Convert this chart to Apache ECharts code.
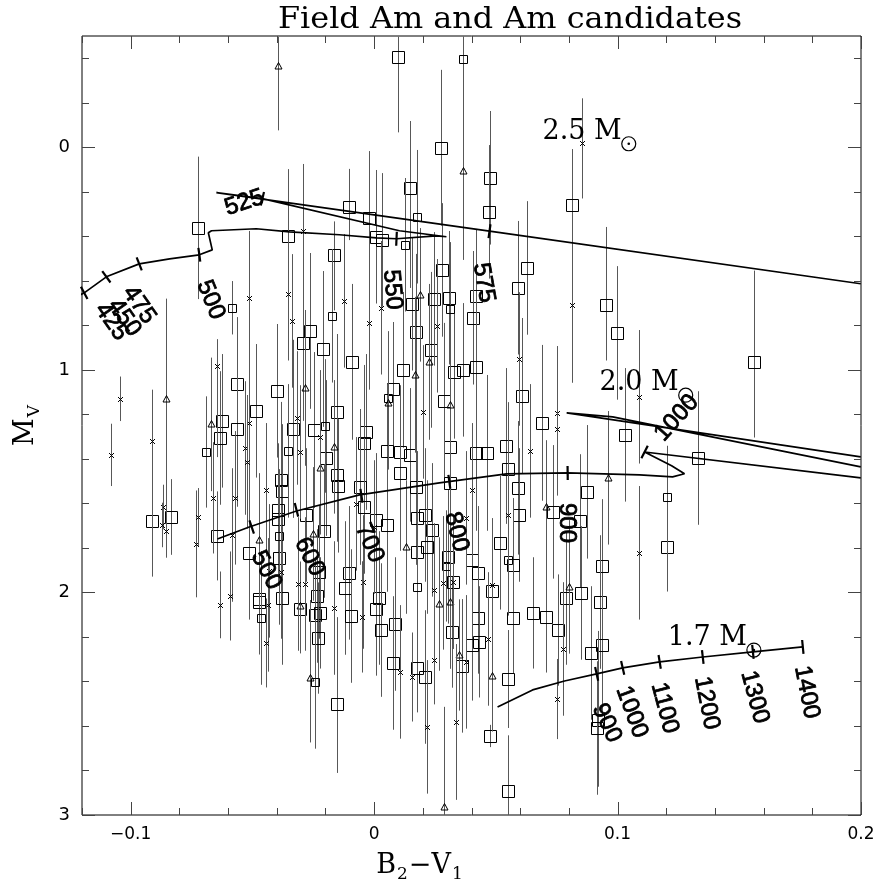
<!DOCTYPE html>
<html><head><meta charset="utf-8">
<script src="https://cdn.jsdelivr.net/npm/echarts@6/dist/echarts.min.js"></script>
<style>html,body{margin:0;padding:0;background:#fff}#c{width:878px;height:888px}</style>
</head><body><div id="c"></div>
<script>
// ---------------- data (B2-V1, M_V, error up, [error down]) ----------------
const bigSquares = [
[-0.0911,1.679,0.25],[-0.0833,1.661,0.17],[-0.0644,1.746,0.2],[-0.0623,1.229,0.3],[-0.0632,1.306,0.3],
[-0.0562,1.063,0.3],[-0.0562,1.265,0.35],[-0.0484,1.184,0.3],[-0.0401,1.094,0.3],[-0.0512,1.822,0.3],
[-0.0381,1.494,0.35],[-0.0377,1.544,0.3],[-0.0393,1.630,0.3],[-0.0393,1.670,0.3],[-0.0389,1.845,0.3],
[-0.0291,0.879,0.35],[-0.0262,0.825,0.35],[-0.0212,0.906,0.35],[-0.0332,1.265,0.4],[-0.0245,1.270,0.35],
[-0.0196,1.396,0.35],[-0.0151,1.189,0.35],[-0.0151,1.472,0.3],[-0.0147,1.521,0.3],[-0.0278,1.652,0.3],
[-0.0204,1.724,0.3],[-0.0089,0.964,0.35],[0.0120,1.000,0.35],[0.0079,1.085,0.3],[0.0170,0.829,0.35],
[0.0232,0.910,0.35],[-0.0032,1.279,0.35],[-0.0040,1.328,0.35],[0.0051,1.364,0.3],[0.0108,1.369,0.3],
[0.0149,1.382,0.3],[0.0108,1.463,0.35],[0.0170,1.526,0.35],[-0.0060,1.526,0.35],[-0.0040,1.616,0.3],
[0.0009,1.674,0.3],[0.0051,1.697,0.3],[0.0178,1.665,0.3],[0.0236,1.719,0.3],[0.0211,1.652,0.3],
[0.0178,1.818,0.3],[0.0219,1.796,0.3],[-0.0102,1.912,0.3],[-0.0118,1.980,0.3],[-0.0225,1.908,0.3],
[-0.0233,2.016,0.3],[-0.0377,2.025,0.3],[-0.0471,2.029,0.25],[0.0022,2.025,0.3],[-0.0722,0.362,0.32],
[-0.0352,0.398,0.3],[-0.0163,0.483,0.15,0.25],[-0.0102,0.267,0.17,0.15],[-0.0023,0.317,0.3],[0.0009,0.402,0.3],
[0.0034,0.416,0.3],[0.0149,0.182,0.3,0.45],[0.0100,-0.407,0.09,0.34],[0.0273,0.002,0.35],[0.0478,0.137,0.3],
[0.0470,0.290,0.3],[0.0811,0.258,0.25,0.6],[0.0630,0.542,0.3],[0.0589,0.631,0.3],[0.0277,0.551,0.3],
[0.0248,0.681,0.3],[0.0306,0.676,0.3],[0.0157,0.703,0.3],[0.0420,0.667,0.3],[0.0408,0.766,0.3],
[0.0420,0.987,0.3],[0.0367,1.000,0.3],[0.0330,1.009,0.3],[0.0951,0.708,0.35,0.25],[0.0996,0.834,0.3],
[0.1559,0.964,0.41,0.34],[0.0609,1.117,0.35],[0.0688,1.238,0.35],[0.0540,1.342,0.35],[0.0462,1.373,0.35],
[0.0420,1.373,0.35],[0.0310,1.346,0.35],[0.0285,1.139,0.35],[0.1029,1.292,0.3],[0.1329,1.396,0.3],
[0.1202,1.796,0.2],[0.0310,1.508,0.35],[0.0548,1.445,0.3],[0.0589,1.530,0.3],[0.0873,1.548,0.3],
[0.0733,1.638,0.3],[0.0844,1.679,0.3],[0.0597,1.652,0.3],[0.0519,1.777,0.3],[0.0400,1.854,0.3],
[0.0425,1.912,0.3],[0.0569,1.876,0.3],[0.0938,1.881,0.3],[0.0486,1.993,0.3],[0.0790,2.025,0.3],
[0.0848,2.002,0.3],[0.0926,2.043,0.3],[0.0302,1.840,0.3],[0.0425,2.115,0.25],[0.0569,2.115,0.25],
[0.0318,2.178,0.25],[0.0651,2.092,0.25],[0.0708,2.110,0.25],[0.0754,2.169,0.25],[0.0400,2.236,0.25],
[0.0429,2.222,0.25],[0.0938,2.236,0.3],[0.0889,2.272,0.3],[0.0178,2.339,0.2],[0.0207,2.380,0.3],
[0.0359,2.330,0.3],[0.0548,2.389,0.22],[0.0478,2.645,0.05],[0.0548,2.892,0.25],[0.0918,2.573,0.4,0.3],
[0.0914,2.609,0.3],[-0.0471,2.043,0.2],[-0.0303,2.074,0.2],[-0.0241,2.101,0.25],[-0.0221,2.092,0.25],
[-0.0229,2.205,0.25],[-0.0093,2.106,0.3],[0.0009,2.074,0.3],[0.0030,2.169,0.3],[0.0087,2.142,0.3],
[0.0079,2.317,0.3],[-0.0151,2.501,0.39,0.31],[0.0326,1.953,0.3]
];
const smallSquares = [
[-0.0689,1.369,0.25],[-0.0582,0.721,0.12],[-0.0352,1.364,0.3],[-0.0200,1.252,0.3],[-0.0389,1.746,0.3],
[-0.0171,0.757,0.3],[0.0059,1.126,0.3],[0.0178,0.312,0.3],[0.0125,0.438,0.3],[0.0367,-0.398,0.1,0.87],
[0.0310,0.726,0.3],[0.1202,1.571,0.23,0.29],[0.0548,1.854,0.25],[0.0297,1.881,0.25],[0.0178,1.975,0.25],
[-0.0463,2.115,0.3],[-0.0241,2.402,0.3]
];
const triangles = [
[-0.0854,1.130,0.45,0.5],[-0.0672,1.245,0.3],[-0.0471,1.764,0.3],[-0.0282,1.081,0.35],[-0.0221,1.440,0.3],
[-0.0163,1.346,0.3],[-0.0253,1.737,0.3],[0.0059,1.148,0.3],[0.0166,1.022,0.35],[0.0227,0.964,0.35],
[0.0129,1.796,0.3],[-0.0393,-0.366,0.13,0.29],[0.0367,0.106,0.4],[0.0190,0.663,0.3],[0.0310,1.157,0.4],
[0.0959,1.485,0.3],[0.0708,1.616,0.3],[0.0799,1.975,0.3],[0.0268,2.052,0.3],[0.0310,2.043,0.3],
[0.0347,2.281,0.25],[0.0486,2.375,0.25],[0.0289,2.964,0.45,0.1],[-0.0303,2.061,0.2],[-0.0262,2.384,0.35,0.29]
];
const crosses = [
[-0.1080,1.382,0.14],[-0.1042,1.130,0.1],[-0.0911,1.319,0.23,0.55],[-0.0866,1.616,0.1],[-0.0870,1.697,0.1],
[-0.0854,1.724,0.12],[-0.0730,1.782,0.24],[-0.0722,1.661,0.13],[-0.0660,1.575,0.25],[-0.0644,0.982,0.12,0.41],
[-0.0570,1.575,0.3],[-0.0512,1.238,0.3],[-0.0529,1.351,0.3],[-0.0521,1.413,0.3],[-0.0443,1.539,0.3],
[-0.0582,1.742,0.3],[-0.0336,0.780,0.3],[-0.0315,1.216,0.3],[-0.0303,1.369,0.3],[-0.0221,1.301,0.3],
[-0.0023,0.789,0.3],[0.0199,1.189,0.3],[-0.0291,0.375,0.3],[-0.0512,0.676,0.3],[-0.0352,0.658,0.3],
[-0.0122,0.690,0.3],[0.0030,0.721,0.3],[0.0260,0.802,0.3],[0.0597,0.951,0.3],[0.0811,0.708,0.35],
[0.0852,-0.020,0.2,0.25],[0.0750,1.193,0.3],[0.0750,1.265,0.3],[0.0639,1.364,0.3],[0.1087,1.121,0.3],
[0.1087,1.822,0.3],[0.0400,1.539,0.3],[0.0548,1.652,0.3],[0.0379,1.665,0.3],[0.0326,1.953,0.3],
[0.0281,1.957,0.3],[0.0486,1.966,0.3],[0.0248,1.989,0.3],[-0.0073,1.602,0.3],[0.0001,1.706,0.3],
[-0.0044,1.953,0.3],[-0.0311,1.962,0.3],[-0.0282,1.962,0.3],[-0.0430,1.903,0.3],[-0.0381,1.908,0.3],
[-0.0591,2.016,0.2],[-0.0632,2.056,0.15],[-0.0434,2.056,0.3],[-0.0443,2.227,0.2],[-0.0163,2.070,0.3],
[-0.0048,2.110,0.25],[0.0108,2.357,0.3],[0.0157,2.380,0.2],[0.0248,2.303,0.2],[0.0219,2.604,0.3],
[0.0338,2.582,0.35],[0.0750,2.479,0.18],[0.0379,2.312,0.3],[0.0466,2.209,0.3],[0.0774,2.254,0.3]
];

// evolutionary tracks
const track25 = [[-0.121,0.665],[-0.1191,0.654],[-0.110,0.582],[-0.0965,0.524],[-0.084,0.501],[-0.0718,0.483],
[-0.0665,0.461],[-0.0681,0.384],[-0.0668,0.375],[-0.0484,0.366],[-0.0348,0.380],[-0.0143,0.393],[0.0009,0.407],
[0.0092,0.411],[0.0256,0.398],[0.0297,0.402],[0.0104,0.375],[-0.0459,0.231],[-0.0648,0.204],[0.0474,0.377],[0.1999,0.613]];
const track20 = [[-0.0644,1.760],[-0.0513,1.706],[-0.0319,1.634],[-0.0060,1.562],[0.0268,1.508],[0.0544,1.467],
[0.0795,1.463],[0.1091,1.472],[0.1226,1.481],[0.1275,1.467],[0.1222,1.431],[0.1111,1.369],[0.1999,1.485]];
const track20b = [[0.1999,1.391],[0.0791,1.193],[0.0980,1.211],[0.1999,1.436]];
const track17 = [[0.0507,2.515],[0.0651,2.438],[0.0782,2.398],[0.0914,2.366],[0.1021,2.339],[0.1173,2.312],
[0.1350,2.290],[0.1556,2.267],[0.1761,2.245]];

const ticks25 = [[-0.1191,0.654],[-0.110,0.582],[-0.0965,0.524],[-0.0718,0.483],[-0.0459,0.231],[0.0092,0.411],[0.0474,0.377]];
const ticks20 = [[-0.0503,1.706],[-0.0319,1.629],[-0.0052,1.566],[0.0309,1.503],[0.0795,1.463],[0.1111,1.369]];
const ticks17 = [[0.0914,2.366],[0.1021,2.339],[0.1173,2.312],[0.1350,2.290],[0.1556,2.267],[0.1761,2.245]];

const ageLabels = [
 {t:'425',x:-0.1079,y:0.784,r:-55},{t:'450',x:-0.1026,y:0.766,r:-55},{t:'475',x:-0.0965,y:0.708,r:-55},
 {t:'500',x:-0.0672,y:0.685,r:-68},{t:'525',x:-0.0533,y:0.249,r:18},{t:'550',x:0.0075,y:0.640,r:-85},
 {t:'575',x:0.0450,y:0.609,r:-80},
 {t:'500',x:-0.0443,y:1.900,r:-62},{t:'600',x:-0.0266,y:1.840,r:-63},{t:'700',x:-0.0019,y:1.778,r:-67},
 {t:'800',x:0.0338,y:1.728,r:-76},{t:'900',x:0.0791,y:1.688,r:-90},{t:'1000',x:0.1243,y:1.216,r:48},
 {t:'900',x:0.0955,y:2.587,r:-65},{t:'1000',x:0.1058,y:2.537,r:-70},{t:'1100',x:0.1193,y:2.519,r:-75},
 {t:'1200',x:0.1366,y:2.497,r:-79},{t:'1300',x:0.1563,y:2.470,r:-75},{t:'1400',x:0.1777,y:2.448,r:-79}
];
const massLabels = [{t:'2.5 M',x:0.0692,y:-0.0697},{t:'2.0 M',x:0.0926,y:1.060},{t:'1.7 M',x:0.1206,y:2.205}];

const xMajorTicks=[-0.1,0,0.1,0.2];
const xMinorTicks=[-0.12,-0.08,-0.06,-0.04,-0.02,0.02,0.04,0.06,0.08,0.12,0.14,0.16,0.18];
const yMajorTicks=[0,1,2,3];
const yMinorTicks=[-0.4,-0.2,0.2,0.4,0.6,0.8,1.2,1.4,1.6,1.8,2.2,2.4,2.6,2.8];

// ---------------- rendering ----------------
const SERIF='"DejaVu Serif", serif';
const ctx=document.createElement('canvas').getContext('2d');
function tw(t,font){ctx.font=font;return ctx.measureText(t).width;}
const X_MIN=-0.12,X_MAX=0.2,Y_MIN=-0.5,Y_MAX=3;
const BAR='#585858';

function pointSeries(arr, kind){
  return {type:'custom',coordinateSystem:'cartesian2d',clip:true,z:2,
    data:arr.map(d=>[d[0],d[1]]),encode:{x:0,y:1},
    renderItem:function(params,api){
      const d=arr[params.dataIndex];
      const eu=d[2], ed=(d[3]===undefined?d[2]:d[3]);
      const p=api.coord([d[0],d[1]]);
      const a=api.coord([d[0],d[1]-eu]), b=api.coord([d[0],d[1]+ed]);
      const px=Math.round(p[0])+0.5, py=Math.round(p[1])+0.5;
      const ch=[{type:'line',shape:{x1:px,y1:a[1],x2:px,y2:b[1]},style:{stroke:BAR,lineWidth:1}}];
      const ms={fill:'none',stroke:'#000',lineWidth:1};
      if(kind==='big'||kind==='small'){
        const s=kind==='big'?12:8;
        ch.push({type:'rect',shape:{x:px-s/2,y:py-s/2,width:s,height:s},style:ms});
      } else if(kind==='tri'){
        ch.push({type:'polygon',shape:{points:[[px,py-4],[px-3.5,py+2.5],[px+3.5,py+2.5]]},style:ms});
      } else {
        ch.push({type:'line',shape:{x1:px-2.5,y1:py-2.5,x2:px+2.5,y2:py+2.5},style:ms});
        ch.push({type:'line',shape:{x1:px-2.5,y1:py+2.5,x2:px+2.5,y2:py-2.5},style:ms});
      }
      return {type:'group',children:ch};
    }};
}
function trackSeries(tr){
  return {type:'line',data:tr,showSymbol:false,symbol:'none',z:5,clip:true,silent:true,
    lineStyle:{color:'#000',width:1.7},animation:false};
}
function trackTickSeries(tr,ticks){
  return {type:'custom',coordinateSystem:'cartesian2d',clip:false,z:6,
    data:ticks,encode:{x:0,y:1},
    renderItem:function(params,api){
      const t=ticks[params.dataIndex]; const p=api.coord(t);
      const pts=tr.map(q=>api.coord(q));
      let best=1e9,dx=1,dy=0;
      for(let i=0;i<pts.length-1;i++){
        const a=pts[i],b=pts[i+1];const vx=b[0]-a[0],vy=b[1]-a[1];const L=vx*vx+vy*vy;if(L<1e-6)continue;
        let u=((p[0]-a[0])*vx+(p[1]-a[1])*vy)/L;u=Math.max(0,Math.min(1,u));
        const cx=a[0]+u*vx-p[0],cy=a[1]+u*vy-p[1];const dd=cx*cx+cy*cy;
        if(dd<best){best=dd;const l=Math.sqrt(L);dx=vx/l;dy=vy/l;}
      }
      const nx=-dy*7,ny=dx*7;
      return {type:'line',shape:{x1:p[0]-nx,y1:p[1]-ny,x2:p[0]+nx,y2:p[1]+ny},style:{stroke:'#000',lineWidth:2.2}};
    }};
}
const ageSeries={type:'custom',coordinateSystem:'cartesian2d',clip:false,z:7,
  data:ageLabels.map(l=>[l.x,l.y]),encode:{x:0,y:1},
  renderItem:function(params,api){
    const l=ageLabels[params.dataIndex];const p=api.coord([l.x,l.y]);
    return {type:'text',x:p[0],y:p[1],rotation:l.r*Math.PI/180,
      style:{text:l.t,font:'24px "Liberation Sans", Arial, sans-serif',fill:'#000',align:'center',verticalAlign:'middle',
        stroke:'#000',lineWidth:0.8}};
  }};
const MFONT='27px '+SERIF;
const massSeries={type:'custom',coordinateSystem:'cartesian2d',clip:false,z:7,
  data:massLabels.map(l=>[l.x,l.y]),encode:{x:0,y:1},
  renderItem:function(params,api){
    const l=massLabels[params.dataIndex];const p=api.coord([l.x,l.y]);
    const w=tw(l.t,MFONT);
    const cx=p[0]+w+7, cy=p[1]+12;
    return {type:'group',children:[
      {type:'text',x:p[0],y:p[1],style:{text:l.t,font:MFONT,fill:'#000',align:'left',verticalAlign:'middle'}},
      {type:'circle',shape:{cx:cx,cy:cy,r:7},style:{fill:'none',stroke:'#000',lineWidth:1.2}},
      {type:'circle',shape:{cx:cx,cy:cy,r:1.3},style:{fill:'#000'}}
    ]};
  }};
function axisTickSeries(vals,axis,len){
  return {type:'custom',coordinateSystem:'cartesian2d',clip:false,z:8,
    data:vals.map(v=>axis==='x'?[v,Y_MIN]:[X_MIN,v]),encode:{x:0,y:1},
    renderItem:function(params,api){
      const v=vals[params.dataIndex];const st={stroke:'#444',lineWidth:1};
      if(axis==='x'){
        const b=api.coord([v,Y_MAX]),t=api.coord([v,Y_MIN]);const x=Math.round(b[0])+0.5;
        return {type:'group',children:[
          {type:'line',shape:{x1:x,y1:b[1],x2:x,y2:b[1]-len},style:st},
          {type:'line',shape:{x1:x,y1:t[1],x2:x,y2:t[1]+len},style:st}]};
      } else {
        const l=api.coord([X_MIN,v]),r=api.coord([X_MAX,v]);const y=Math.round(l[1])+0.5;
        return {type:'group',children:[
          {type:'line',shape:{x1:l[0],y1:y,x2:l[0]+len,y2:y},style:st},
          {type:'line',shape:{x1:r[0],y1:y,x2:r[0]-len,y2:y},style:st}]};
      }
    }};
}

// title & axis names (graphic)
const TITLE='Field Am and Am candidates';
const TFONT='29px '+SERIF;
const titleScale=464/tw(TITLE,TFONT);
const BIG='27px '+SERIF, SUB='17px '+SERIF;
function subGroup(parts){
  let x=0;const ch=[];
  parts.forEach(p=>{const f=p[1]?SUB:BIG;const w=tw(p[0],f);
    ch.push({type:'text',x:x,y:p[1]?9:0,style:{text:p[0],font:f,fill:'#000',align:'left',verticalAlign:'middle'}});x+=w+1;});
  return {children:ch,width:x};
}
const xName=subGroup([['B',0],['2',1],['\u2212V',0],['1',1]]);
const yName=subGroup([['M',0],['V',1]]);

const chart=echarts.init(document.getElementById('c'),null,{renderer:'canvas'});
chart.setOption({
  animation:false,backgroundColor:'#fff',
  grid:{left:82,top:36,width:779,height:779,show:true,borderColor:'#000',borderWidth:1,backgroundColor:'transparent'},
  xAxis:{type:'value',min:X_MIN,max:X_MAX,interval:0.02,
    axisLine:{show:false},axisTick:{show:false},splitLine:{show:false},
    axisLabel:{margin:11,color:'#000',fontSize:17,fontFamily:'"DejaVu Sans", sans-serif',showMinLabel:true,showMaxLabel:true,
      formatter:function(v){const r=Math.round(v*10)/10;if(Math.abs(v-r)>1e-6)return '';
        if(Math.abs(r)<1e-9)return '0';return r<0?'\u2212'+Math.abs(r):String(r);}}},
  yAxis:{type:'value',inverse:true,min:Y_MIN,max:Y_MAX,interval:0.1,
    axisLine:{show:false},axisTick:{show:false},splitLine:{show:false},
    axisLabel:{margin:12,color:'#000',fontSize:18,fontFamily:'"DejaVu Sans", sans-serif',
      formatter:function(v){const r=Math.round(v);if(Math.abs(v-r)>1e-6)return '';return String(r);}}},
  graphic:[
    {type:'text',x:510,y:20,scaleX:titleScale,style:{text:TITLE,font:TFONT,fill:'#000',align:'center',verticalAlign:'middle'}},
    {type:'group',x:420-xName.width/2,y:866,children:xName.children},
    {type:'group',x:26,y:425+yName.width/2,rotation:Math.PI/2,children:yName.children}
  ],
  series:[
    pointSeries(bigSquares,'big'),pointSeries(smallSquares,'small'),pointSeries(triangles,'tri'),pointSeries(crosses,'cross'),
    trackSeries(track25),trackSeries(track20),trackSeries(track20b),trackSeries(track17),
    trackTickSeries(track25,ticks25),trackTickSeries(track20,ticks20),trackTickSeries(track17,ticks17),
    ageSeries,massSeries,
    axisTickSeries(xMajorTicks,'x',13),axisTickSeries(xMinorTicks,'x',7),
    axisTickSeries(yMajorTicks,'y',13),axisTickSeries(yMinorTicks,'y',7)
  ]
});
</script></body></html>
